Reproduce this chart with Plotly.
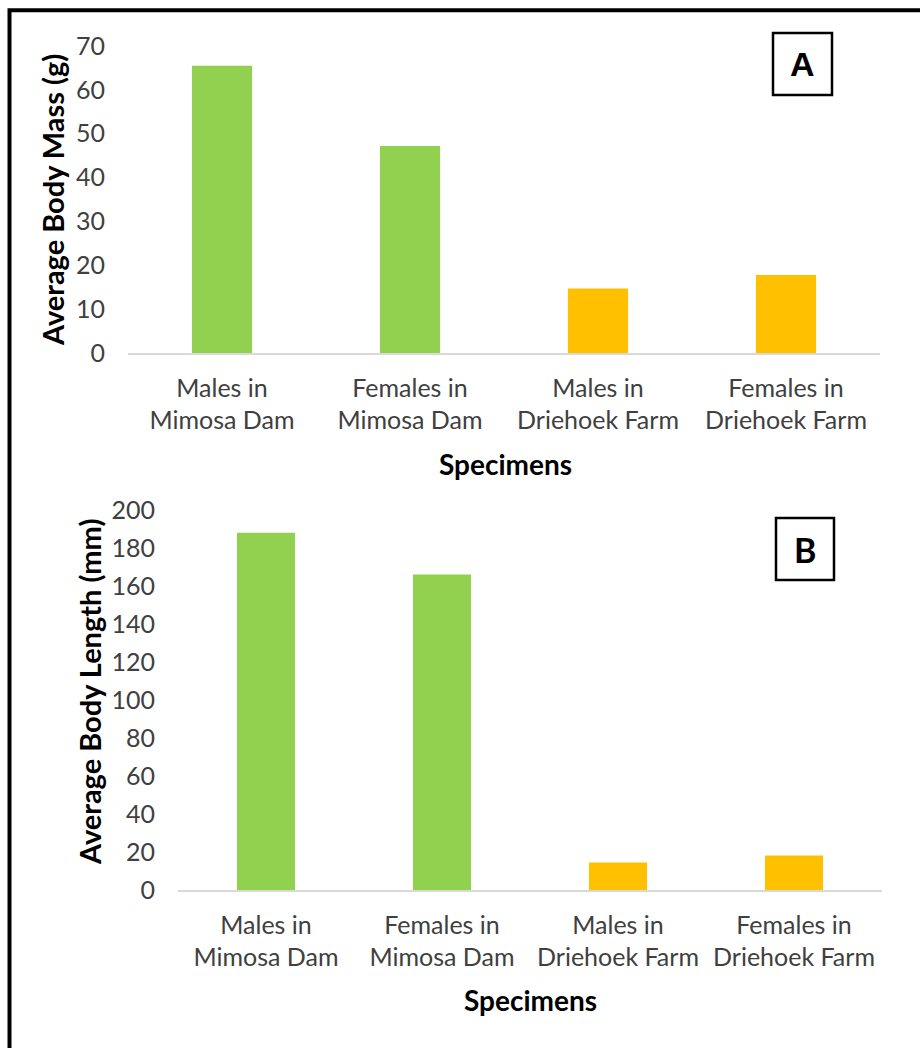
import plotly.graph_objects as go

# Specimen groups shared by both panels
categories = [
    "Males in<br>Mimosa Dam",
    "Females in<br>Mimosa Dam",
    "Males in<br>Driehoek Farm",
    "Females in<br>Driehoek Farm",
]
body_mass_g = [65.5, 47.2, 14.7, 17.8]
body_length_mm = [188, 166, 14.5, 18.2]
mass_ticks = [0, 10, 20, 30, 40, 50, 60, 70]
length_ticks = [0, 20, 40, 60, 80, 100, 120, 140, 160, 180, 200]

W, H = 920, 1048
GREEN, GOLD = "#92d050", "#ffc000"
bar_colors = [GREEN, GREEN, GOLD, GOLD]
TICK_FONT = dict(family="Lato", size=25, color="#404040")
TITLE_FONT = dict(family="Lato", size=28, color="#000000")
YTITLE_FONT = dict(family="Lato", size=29, color="#000000")


def px_x(x):
    return x / W


def px_y(y):
    return 1 - y / H


fig = go.Figure()
fig.add_trace(go.Bar(x=categories, y=body_mass_g, marker=dict(color=bar_colors, line=dict(width=0)),
                     width=0.32, xaxis="x", yaxis="y", showlegend=False))
fig.add_trace(go.Bar(x=categories, y=body_length_mm, marker=dict(color=bar_colors, line=dict(width=0)),
                     width=0.33, xaxis="x2", yaxis="y2", showlegend=False))

xcommon = dict(showgrid=False, zeroline=False, showline=True, linecolor="#d9d9d9", linewidth=1.5,
               ticks="", tickfont=TICK_FONT, ticklabelstandoff=12, fixedrange=True, automargin=False)
ycommon = dict(showgrid=False, zeroline=False, showline=False, ticks="", tickfont=TICK_FONT,
               ticklabelstandoff=22, fixedrange=True, automargin=False)

fig.update_layout(
    template="none",
    width=W, height=H,
    margin=dict(l=0, r=0, t=0, b=0, pad=0, autoexpand=False),
    paper_bgcolor="white", plot_bgcolor="white",
    xaxis=dict(domain=[px_x(128), px_x(880)], anchor="y", **xcommon),
    yaxis=dict(domain=[px_y(353), px_y(46)], range=[0, 70], tickvals=mass_ticks, anchor="x", **ycommon),
    xaxis2=dict(domain=[px_x(178), px_x(882)], anchor="y2", **xcommon),
    yaxis2=dict(domain=[px_y(890), px_y(510)], range=[0, 200], tickvals=length_ticks, anchor="x2", **ycommon),
)

# Axis titles
fig.add_annotation(text="<b>Average Body Mass (g)</b>", x=px_x(53), y=px_y(200), xref="paper", yref="paper",
                   textangle=-90, showarrow=False, font=YTITLE_FONT, xanchor="center", yanchor="middle")
fig.add_annotation(text="<b>Specimens</b>", x=px_x(505), y=px_y(464), xref="paper", yref="paper",
                   showarrow=False, font=TITLE_FONT, xanchor="center", yanchor="middle")
fig.add_annotation(text="<b>Average Body Length (mm)</b>", x=px_x(89), y=px_y(692), xref="paper", yref="paper",
                   textangle=-90, showarrow=False, font=YTITLE_FONT, xanchor="center", yanchor="middle")
fig.add_annotation(text="<b>Specimens</b>", x=px_x(530), y=px_y(1000), xref="paper", yref="paper",
                   showarrow=False, font=TITLE_FONT, xanchor="center", yanchor="middle")

# Panel letter boxes
for letter, (x0, y0, x1, y1), fam in [("A", (773, 33, 832, 95), "Liberation Sans"),
                                       ("B", (776, 518, 834, 580), "Lato")]:
    fig.add_shape(type="rect", xref="paper", yref="paper",
                  x0=px_x(x0), x1=px_x(x1), y0=px_y(y1), y1=px_y(y0),
                  line=dict(color="black", width=2.5), fillcolor="white", layer="above")
    fig.add_annotation(text=f"<b>{letter}</b>", x=px_x((x0 + x1) / 2), y=px_y((y0 + y1) / 2),
                       xref="paper", yref="paper", showarrow=False,
                       font=dict(family=fam, size=34, color="black"), xanchor="center", yanchor="middle")

# Outer frame (runs off the right and bottom edges)
fig.add_shape(type="rect", xref="paper", yref="paper",
              x0=px_x(9.5), x1=1.2, y0=-0.2, y1=px_y(10.3),
              line=dict(color="black", width=4), layer="above")

fig.write_html("out.html")
